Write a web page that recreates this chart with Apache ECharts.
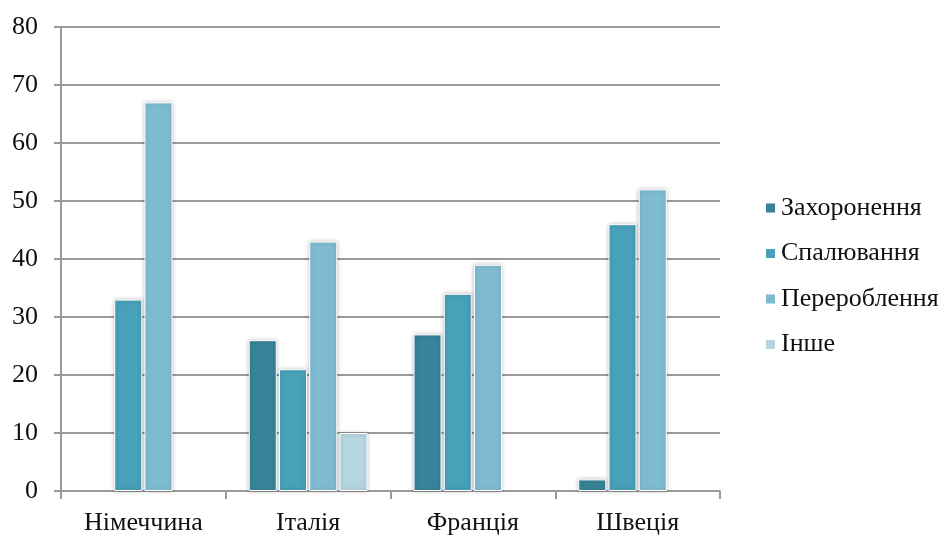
<!DOCTYPE html>
<html>
<head>
<meta charset="utf-8">
<script src="https://cdn.jsdelivr.net/npm/echarts@6/dist/echarts.min.js"></script>
<style>
html,body{margin:0;padding:0;background:#fff;}
#chart{width:944px;height:536px;}
</style>
</head>
<body>
<div id="chart"></div>
<script>
var countries = ['Німеччина', 'Італія', 'Франція', 'Швеція'];
var seriesNames = ['Захоронення', 'Спалювання', 'Перероблення', 'Інше'];
var burial = [null, 26, 27, 2];
var burning = [33, 21, 34, 46];
var recycling = [67, 43, 39, 52];
var other = [null, 10, null, null];
var colors = ['#37839a', '#47a1b9', '#7ebbd1', '#b5d5e1'];

var font = "'Liberation Serif', 'Times New Roman', serif";
var chart = echarts.init(document.getElementById('chart'));

var values = [burial, burning, recycling, other];
var series = [];
for (var i = 0; i < seriesNames.length; i++) {
	series.push({
		name: seriesNames[i],
		type: 'bar',
		data: values[i],
		barWidth: 28,
		barGap: '8%',
		itemStyle: {
			color: colors[i],
			borderColor: '#fff',
			borderWidth: 1,
			shadowBlur: 4,
			shadowColor: 'rgba(0,0,0,0.25)'
		}
	});
}

var option = {
	animation: false,
	backgroundColor: '#fff',
	textStyle: { fontFamily: font },
	grid: { left: 61, right: 224, top: 27, bottom: 45 },
	legend: {
		orient: 'vertical',
		left: 759,
		top: 190,
		itemWidth: 11,
		itemHeight: 11,
		itemGap: 19.5,
		icon: 'rect',
		textStyle: { fontFamily: font, fontSize: 26, color: '#111' },
		data: seriesNames
	},
	xAxis: {
		type: 'category',
		data: countries,
		axisLine: { lineStyle: { color: '#999', width: 2 } },
		axisTick: { show: true, length: 8, lineStyle: { color: '#999', width: 2 } },
		axisLabel: { fontFamily: font, fontSize: 26, color: '#111', margin: 19 }
	},
	yAxis: {
		type: 'value',
		min: 0,
		max: 80,
		interval: 10,
		axisLine: { show: true, lineStyle: { color: '#999', width: 2 } },
		axisTick: { show: true, length: 7, inside: false, lineStyle: { color: '#999', width: 2 } },
		splitLine: { lineStyle: { color: '#999', width: 2 } },
		axisLabel: { fontFamily: font, fontSize: 26, color: '#111', margin: 23 }
	},
	series: series
};
chart.setOption(option);
</script>
</body>
</html>
